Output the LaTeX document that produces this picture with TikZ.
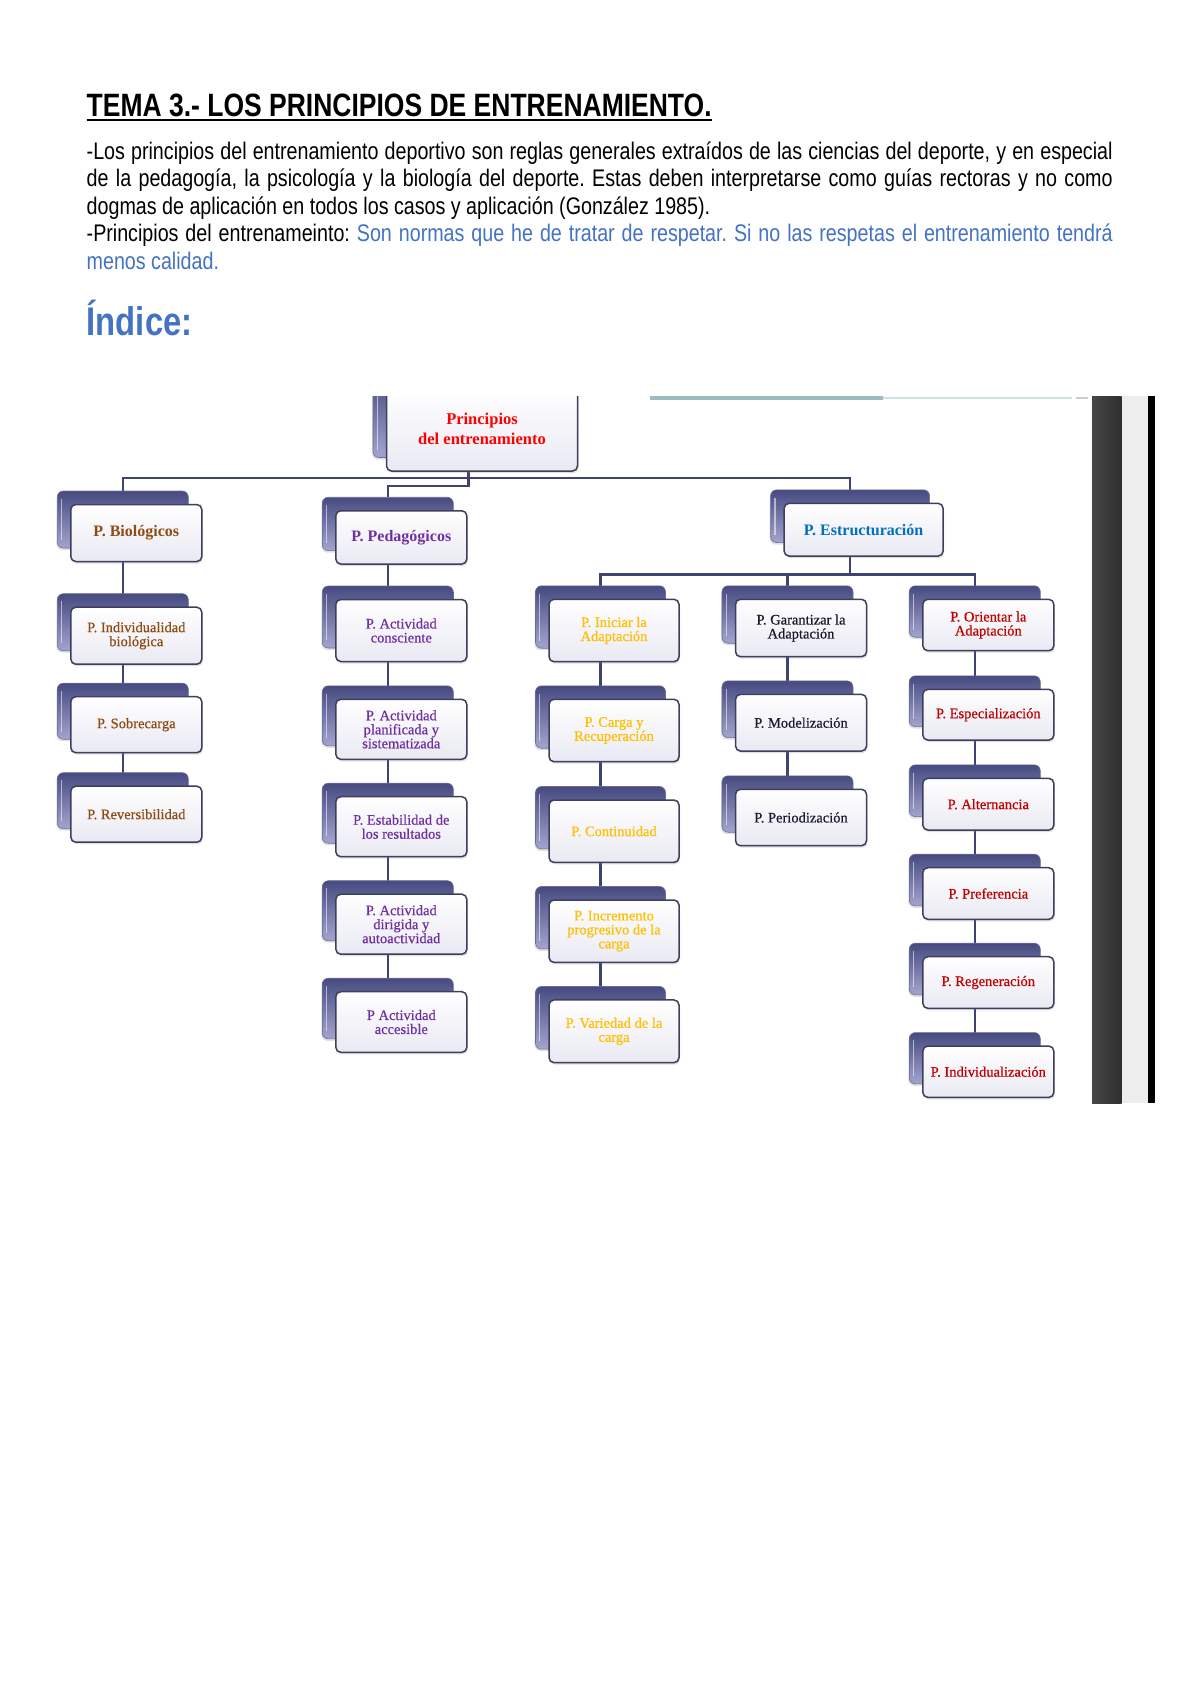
\documentclass[tikz,border=0pt]{standalone}
\usepackage{fontspec}
\newfontfamily\narrowfont{Liberation Sans}[FakeStretch=0.82]
\newfontfamily\boxfont{Liberation Serif}[FakeBold=0.6]
\newfontfamily\boxfontb{Liberation Serif}
\usetikzlibrary{backgrounds,shadows,calc}
\definecolor{txtblue}{HTML}{4472C4}
\definecolor{cbrown}{HTML}{8E4B12}
\definecolor{cpurple}{HTML}{7030A0}
\definecolor{cblue}{HTML}{0070C0}
\definecolor{cgold}{HTML}{FFC000}
\definecolor{cnavy}{HTML}{1A1A2E}
\definecolor{cred}{HTML}{C00000}
\definecolor{croot}{HTML}{FF0000}
\definecolor{connc}{HTML}{3F4373}
\definecolor{backtop}{HTML}{464A80}
\definecolor{backbot}{HTML}{A3A5CE}
\definecolor{frontdraw}{HTML}{3D3F5C}
\definecolor{frontbot}{HTML}{E9E9F3}
\definecolor{lineA}{HTML}{9DBCBF}
\definecolor{lineB}{HTML}{CFE2E3}
\tikzset{
  backbox/.style={rounded corners=6pt, top color=backtop, bottom color=backbot, draw=backtop!80!white, line width=0.6pt, inner sep=0pt,
    drop shadow={opacity=0.25, shadow xshift=-1pt, shadow yshift=-2pt}},
  backhl/.style={draw=white, opacity=0.55, line width=1.4pt},
  frontbox/.style={rounded corners=5pt, top color=white, bottom color=frontbot, draw=frontdraw, line width=1.5pt, inner sep=2pt,
    align=center, font=\boxfont\fontsize{14.5}{14}\selectfont,
    drop shadow={opacity=0.25, shadow xshift=1pt, shadow yshift=-2pt}},
  headtxt/.style={font=\boxfontb\bfseries\fontsize{16}{19}\selectfont},
  conn/.style={draw=connc, line width=2.4pt},
  bodyline/.style={anchor=base west, inner sep=0pt, font=\narrowfont\fontsize{24}{27.5}\selectfont}
}
\newcommand\prbox[8][]{%
  \node[backbox, minimum width=#5pt, minimum height=#6pt] (b#2) at ({#3-13.5},{#4-13.5}) {};
  \draw[backhl] ([xshift=4.5pt,yshift=-8pt]b#2.north west) -- ([xshift=4.5pt,yshift=8pt]b#2.south west);
  \node[frontbox, minimum width=#5pt, minimum height=#6pt, text=#7, #1] (#2) at (#3,#4) {#8};
}
\frenchspacing
\begin{document}
\begin{tikzpicture}[x=1pt,y=-1pt]
\useasboundingbox (0,0) rectangle (1200,1697);
% ---- header text ----
\node[anchor=base west, inner sep=0pt, font=\narrowfont\bfseries\fontsize{32.3}{36}\selectfont] (title) at (86.5,116) {TEMA 3.- LOS PRINCIPIOS DE ENTRENAMIENTO.};
\draw[line width=2.2pt] ([yshift=-4pt]title.base west) -- ([yshift=-4pt]title.base east);
\node[bodyline] (l1) at (86.5,159) {\makebox[1026pt][s]{-Los principios del entrenamiento deportivo son reglas generales extraídos de las ciencias del deporte, y en especial}};
\node[bodyline] (l2) at (86.5,186.5) {\makebox[1026pt][s]{de la pedagogía, la psicología y la biología del deporte. Estas deben interpretarse como guías rectoras y no como}};
\node[bodyline] (l3) at (86.5,214) {dogmas de aplicación en todos los casos y aplicación (González 1985).};
\node[bodyline] (l4) at (86.5,241.5) {\makebox[1026pt][s]{-Principios del entrenameinto: \textcolor{txtblue}{Son normas que he de tratar de respetar. Si no las respetas el entrenamiento tendrá}}};
\node[bodyline, text=txtblue] (l5) at (86.5,269) {menos calidad.};
\node[anchor=base west, inner sep=0pt, text=txtblue, font=\narrowfont\bfseries\fontsize{40}{44}\selectfont] (indice) at (86.5,335) {Índice:};
% ---- picture frame decorations ----
\fill[lineA] (650,396) rectangle (883,399.5);
\fill[lineB] (883,396.5) rectangle (1072,398.5);
\fill[gray!40] (1076,396.5) rectangle (1088,398.5);
\shade[left color=black!72, right color=black!82] (1092,396) rectangle (1121.5,1103);
\fill[black!7] (1121.5,396) rectangle (1148,1103);
\fill[black] (1148,396) rectangle (1155,1103);
% ---- root ----
\begin{scope}
\clip (0,396) rectangle (1200,1697);
\prbox[font=\boxfontb\bfseries\fontsize{16.5}{20}\selectfont]{root}{482}{429.3}{191}{83.4}{croot}{Principios\\del entrenamiento}
\end{scope}
% ---- level 1 ----
\prbox[headtxt]{bio}{136.3}{533}{131}{57}{cbrown}{P. Biológicos}
\prbox[headtxt]{ped}{401.3}{537.4}{131}{53.3}{cpurple}{P. Pedagógicos}
\prbox[headtxt]{estr}{863.6}{529.7}{159}{52.7}{cblue}{P. Estructuración}
% ---- biological column ----
\prbox{ind}{136.3}{635.7}{131}{57}{cbrown}{P. Individualidad\\biológica}
\prbox{sob}{136.3}{724.7}{131}{56}{cbrown}{P. Sobrecarga}
\prbox{rev}{136.3}{814.2}{131}{56}{cbrown}{P. Reversibilidad}
% ---- pedagogical column ----
\prbox{con}{401.3}{630.5}{131}{62}{cpurple}{P. Actividad\\consciente}
\prbox{pla}{401.3}{729.3}{131}{60}{cpurple}{P. Actividad\\planificada y\\sistematizada}
\prbox{est}{401.3}{826.7}{131}{60}{cpurple}{P. Estabilidad de\\los resultados}
\prbox{dir}{401.3}{924.2}{131}{60}{cpurple}{P. Actividad\\dirigida y\\autoactividad}
\prbox{acc}{401.3}{1022}{131}{60.6}{cpurple}{P Actividad\\accesible}
% ---- structure: first column ----
\prbox{ini}{614}{630.5}{130}{62.4}{cgold}{P. Iniciar la\\Adaptación}
\prbox{car}{614}{730.5}{130}{62.4}{cgold}{P. Carga y\\Recuperación}
\prbox{cont}{614}{831.2}{130}{62.4}{cgold}{P. Continuidad}
\prbox{inc}{614}{931.2}{130}{62.4}{cgold}{P. Incremento\\progresivo de la\\carga}
\prbox{var}{614}{1031.3}{130}{62.7}{cgold}{P. Variedad de la\\carga}
% ---- structure: second column ----
\prbox{gar}{801}{628}{131}{57.4}{cnavy}{P. Garantizar la\\Adaptación}
\prbox{mod}{801}{722.7}{131}{56.7}{cnavy}{P. Modelización}
\prbox{per}{801}{817.5}{131}{56.4}{cnavy}{P. Periodización}
% ---- structure: third column ----
\prbox{ori}{988.3}{625}{131}{51.4}{cred}{P. Orientar la\\Adaptación}
\prbox{esp}{988.3}{714.7}{131}{50.7}{cred}{P. Especialización}
\prbox{alt}{988.3}{804.2}{131}{51.7}{cred}{P. Alternancia}
\prbox{pre}{988.3}{893.5}{131}{51.6}{cred}{P. Preferencia}
\prbox{reg}{988.3}{982.5}{131}{51.6}{cred}{P. Regeneración}
\prbox{indz}{988.3}{1071.7}{131}{51.3}{cred}{P. Individualización}
% ---- connectors ----
\coordinate (h1) at (0,478);
\coordinate (h2) at (0,486);
\coordinate (h3) at (0,574.3);
\begin{pgfonlayer}{background}
\fill[white] (0,0) rectangle (1200,1697);
\draw[conn] (bbio.north) |- (bestr.north |- h1) -- (bestr.north);
\draw[conn] (broot.center) -- (broot.center |- h2) -| (bped.north);
\draw[conn] (bbio.center) -- (bind.center) -- (bsob.center) -- (brev.center);
\draw[conn] (bped.center) -- (bcon.center) -- (bpla.center) -- (best.center) -- (bdir.center) -- (bacc.center);
\draw[conn] (bestr.center) -- (bestr.center |- h3);
\draw[conn] (bini.north) |- (bori.north |- h3) -- (bori.north);
\draw[conn] (bgar.north) -- (bgar.north |- h3);
\draw[conn] (bini.center) -- (bcar.center) -- (bcont.center) -- (binc.center) -- (bvar.center);
\draw[conn] (bgar.center) -- (bmod.center) -- (bper.center);
\draw[conn] (bori.center) -- (besp.center) -- (balt.center) -- (bpre.center) -- (breg.center) -- (bindz.center);
\end{pgfonlayer}
\end{tikzpicture}
\end{document}
